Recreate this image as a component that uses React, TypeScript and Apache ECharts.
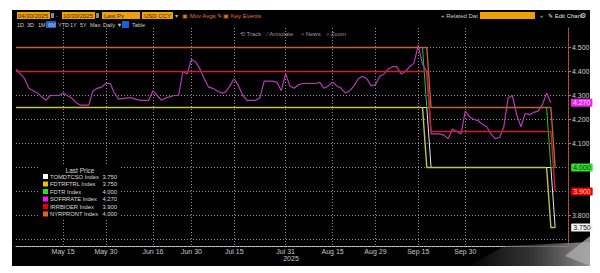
import React, { useEffect, useRef } from 'react';
import * as echarts from 'echarts';

// ---------- axis definitions ----------
const rangeStart = '2025-04-30';
const rangeEnd = '2025-11-04';
const holidays = ['2025-05-26', '2025-06-19', '2025-07-04', '2025-09-01', '2025-10-13'];
const tickDates = ['2025-05-15', '2025-05-30', '2025-06-16', '2025-06-30', '2025-07-15', '2025-07-31', '2025-08-15', '2025-08-29', '2025-09-15', '2025-09-30'];
const yTickValues = [3.8, 4.1, 4.2, 4.3, 4.4, 4.5];
const yGridValues = [3.7, 3.8, 3.9, 4.0, 4.1, 4.2, 4.3, 4.4, 4.5];
const MONTHS = ['Jan', 'Feb', 'Mar', 'Apr', 'May', 'Jun', 'Jul', 'Aug', 'Sep', 'Oct', 'Nov', 'Dec'];

// ---------- series data ----------
const sofrDates = [
  '2025-04-30', '2025-05-02', '2025-05-05', '2025-05-07', '2025-05-09', '2025-05-12', '2025-05-14', '2025-05-15',
  '2025-05-19', '2025-05-20', '2025-05-21', '2025-05-23', '2025-05-27', '2025-05-28', '2025-05-29', '2025-05-30',
  '2025-06-02', '2025-06-03', '2025-06-04', '2025-06-06', '2025-06-09', '2025-06-11', '2025-06-13', '2025-06-16',
  '2025-06-17', '2025-06-18', '2025-06-20', '2025-06-24', '2025-06-25', '2025-06-26', '2025-06-27', '2025-06-30',
  '2025-07-01', '2025-07-02', '2025-07-03', '2025-07-07', '2025-07-08', '2025-07-09', '2025-07-10', '2025-07-11',
  '2025-07-14', '2025-07-15', '2025-07-16', '2025-07-17', '2025-07-18', '2025-07-21', '2025-07-22', '2025-07-23',
  '2025-07-24', '2025-07-25', '2025-07-28', '2025-07-29', '2025-07-30', '2025-07-31', '2025-08-01', '2025-08-04',
  '2025-08-05', '2025-08-06', '2025-08-07', '2025-08-08', '2025-08-11', '2025-08-12', '2025-08-13', '2025-08-14',
  '2025-08-15', '2025-08-18', '2025-08-19', '2025-08-20', '2025-08-21', '2025-08-22', '2025-08-25', '2025-08-26',
  '2025-08-27', '2025-08-28', '2025-08-29', '2025-09-02', '2025-09-03', '2025-09-04', '2025-09-05', '2025-09-08',
  '2025-09-09', '2025-09-10', '2025-09-11', '2025-09-12', '2025-09-15', '2025-09-16', '2025-09-17', '2025-09-18',
  '2025-09-19', '2025-09-22', '2025-09-23', '2025-09-24', '2025-09-25', '2025-09-26', '2025-09-29', '2025-09-30',
  '2025-10-01', '2025-10-02', '2025-10-03', '2025-10-06', '2025-10-07', '2025-10-08', '2025-10-09', '2025-10-10',
  '2025-10-14', '2025-10-15', '2025-10-16', '2025-10-17', '2025-10-20', '2025-10-21', '2025-10-22', '2025-10-23',
  '2025-10-24', '2025-10-27', '2025-10-28', '2025-10-29'
];
const sofrValues = [
  4.41, 4.37, 4.33, 4.31, 4.28, 4.30, 4.30, 4.31,
  4.29, 4.27, 4.26, 4.26, 4.32, 4.33, 4.335, 4.35,
  4.35, 4.31, 4.285, 4.29, 4.29, 4.28, 4.28, 4.32,
  4.30, 4.28, 4.29, 4.30, 4.30, 4.40, 4.39, 4.45,
  4.44, 4.41, 4.37, 4.335, 4.33, 4.32, 4.31, 4.315,
  4.34, 4.37, 4.34, 4.30, 4.28, 4.28, 4.28, 4.29,
  4.36, 4.36, 4.36, 4.355, 4.32, 4.39, 4.34, 4.33,
  4.345, 4.35, 4.35, 4.35, 4.35, 4.355, 4.33, 4.34,
  4.355, 4.34, 4.33, 4.31, 4.32, 4.34, 4.37, 4.38,
  4.37, 4.34, 4.345, 4.38, 4.39, 4.41, 4.42, 4.42,
  4.39, 4.40, 4.42, 4.435, 4.51, 4.43, 4.40, 4.14,
  4.14, 4.14, 4.135, 4.12, 4.16, 4.15, 4.14, 4.235,
  4.21, 4.20, 4.195, 4.18, 4.17, 4.14, 4.12, 4.125,
  4.17, 4.29, 4.30, 4.22, 4.17, 4.225, 4.22, 4.23,
  4.235, 4.26, 4.31, 4.27
];

// Fed funds target upper (FDTR) and lower (FDTRFTRL) bounds: change on announcement day
const boundDates = ['2025-04-30', '2025-09-16', '2025-09-17', '2025-10-28', '2025-10-29', '2025-10-30'];
const fdtrValues = [4.5, 4.5, 4.25, 4.25, 4.0, 4.0];
const ftrlValues = [4.25, 4.25, 4.0, 4.0, 3.75, 3.75];
// Administered rates: change on effective day
const adminDates = ['2025-04-30', '2025-09-17', '2025-09-18', '2025-10-29', '2025-10-30'];
const tomValues = [4.25, 4.25, 4.0, 4.0, 3.75];
const iorbValues = [4.4, 4.4, 4.15, 4.15, 3.9];
const nyrpValues = [4.5, 4.5, 4.25, 4.25, 4.0];

const seriesNames = ['TOMDTCSO Index', 'FDTRFTRL Index', 'FDTR Index', 'SOFRRATE Index', 'IRRBIOER Index', 'NYRPRONT Index'];
const lineColors = ['#e6e6e6', '#c4c440', '#22c822', '#b838b8', '#c8202e', '#c06034'];
const legendColors = ['#ffffff', '#e8c000', '#22e022', '#ff10ff', '#e80000', '#e86010'];

// ---------- helpers ----------
function buildDays(): string[] {
  const out: string[] = [];
  const d = new Date(rangeStart + 'T00:00:00Z');
  const end = new Date(rangeEnd + 'T00:00:00Z');
  while (d.getTime() <= end.getTime()) {
    const wd = d.getUTCDay();
    const s = d.toISOString().slice(0, 10);
    if (wd !== 0 && wd !== 6 && holidays.indexOf(s) < 0) out.push(s);
    d.setUTCDate(d.getUTCDate() + 1);
  }
  return out;
}
const FONT = '"Liberation Sans", Arial, sans-serif';

function txt(x: number, y: number, text: string, fill = '#c8c8c8', size = 6, align = 'left', extra: any = {}) {
  return {
    type: 'text', x, y, z: 100, silent: true,
    style: { text, fill, font: `${size}px ${FONT}`, textAlign: align, align, textVerticalAlign: 'middle', verticalAlign: 'middle', ...extra },
  };
}
function box(x: number, y: number, w: number, h: number, fill: string) {
  return { type: 'rect', z: 99, silent: true, shape: { x, y, width: w, height: h }, style: { fill } };
}

// grid geometry: 240 px per 1.00 so that rate levels fall on pixel centres
const GRID_TOP = 28;
const GRID_BOTTOM = 27;
const PX_PER_UNIT = 240;
const Y_MAX = 4.5 + (47.5 - GRID_TOP) / PX_PER_UNIT;
const Y_MIN = Y_MAX - (273 - GRID_TOP - GRID_BOTTOM) / PX_PER_UNIT;
const GRID_COLOR = '#949494';

export default function App() {
  const ref = useRef<HTMLDivElement>(null);
  useEffect(() => {
    document.body.style.margin = '0';
    const days = buildDays();
    const pairs = (dates: string[], vals: number[]) => dates.map((d, i) => [days.indexOf(d), vals[i]]);
    const fmtDate = (v: string) => {
      const p = v.split('-');
      return `${MONTHS[+p[1] - 1]} ${+p[2]}`;
    };

    const endLbl = (bg: string, fg: string, distance: number) => ({
      show: true,
      distance,
      formatter: (p: any) => (p.value[1] as number).toFixed(3),
      backgroundColor: bg,
      color: fg,
      fontSize: 7,
      fontFamily: FONT,
      padding: [1, 2, 0, 2],
      borderRadius: 1,
      align: 'left',
    });

    const mkLine = (idx: number, dates: string[], vals: number[], width: number, extra: any = {}) => ({
      name: seriesNames[idx],
      type: 'line',
      z: 3,
      data: pairs(dates, vals),
      symbol: 'none',
      lineStyle: { color: lineColors[idx], width },
      itemStyle: { color: lineColors[idx] },
      silent: true,
      ...extra,
    });

    const lastVals = [
      tomValues[tomValues.length - 1],
      ftrlValues[ftrlValues.length - 1],
      fdtrValues[fdtrValues.length - 1],
      sofrValues[sofrValues.length - 1],
      iorbValues[iorbValues.length - 1],
      nyrpValues[nyrpValues.length - 1],
    ];

    const graphics: any[] = [];
    // toolbar row 1
    graphics.push(box(17, 12, 33, 7, '#f0a000'), txt(18, 15.7, '04/30/2025', '#3a2a00', 6));
    graphics.push(box(51, 13, 3, 5, '#888'), txt(56, 15.5, '-', '#bbb', 6));
    graphics.push(box(62, 12, 33, 7, '#f0a000'), txt(63, 15.7, '10/30/2025', '#3a2a00', 6));
    graphics.push(box(96, 13, 3, 5, '#888'));
    graphics.push(box(102, 12, 38, 7, '#f0a000'), txt(104, 15.7, 'Last Px', '#3a2a00', 6));
    graphics.push(box(142, 12, 31, 7, '#f0a000'), txt(144, 15.7, 'USD CCY', '#3a2a00', 6));
    graphics.push(txt(175, 15.5, '▾', '#bbb', 6));
    graphics.push(txt(182, 15.5, '▣ Mov Avgs ✎', '#e07820', 6));
    graphics.push(txt(223, 15.5, '▣ Key Events', '#e07820', 6));
    graphics.push(txt(441, 15.5, '+ Related Dat', '#c8c8c8', 6));
    graphics.push(box(480, 12, 55, 7, '#f0a000'));
    graphics.push(txt(540, 15.5, '«', '#bbb', 6));
    graphics.push(txt(548, 15.5, '✎ Edit Chart', '#e0e0e0', 6));
    graphics.push(txt(580, 15.5, '⚙', '#e0e0e0', 7));
    // toolbar row 2
    const row2: [number, string][] = [[17, '1D'], [27, '3D'], [38, '1M'], [48, '6M'], [58, 'YTD'], [70, '1Y'], [80, '5Y'], [90, 'Max'], [103, 'Daily ▼'], [132, 'Table']];
    graphics.push(box(46, 21, 10, 7, '#1a5fcf'));
    graphics.push(box(122, 21, 7, 7, '#1a5fcf'));
    row2.forEach(([x, t]) => graphics.push(txt(x, 24.5, t, '#cfcfcf', 5.5)));
    // toolbar row 3
    graphics.push(txt(240, 33.5, '⟲ Track', '#9a9a9a', 6));
    graphics.push(txt(267, 33.5, '⁄ Annotate', '#9a9a9a', 6));
    graphics.push(txt(301, 33.5, '⌗ News', '#9a9a9a', 6));
    graphics.push(txt(326, 33.5, '⌕ Zoom', '#9a9a9a', 6));

    // legend
    graphics.push({ type: 'rect', z: 98, silent: true, shape: { x: 40, y: 165, width: 79, height: 55 }, style: { fill: '#000' } });
    graphics.push(txt(80, 170, 'Last Price', '#d8d8d8', 6.5, 'center'));
    seriesNames.forEach((n, i) => {
      const y = 176.5 + i * 7.5;
      graphics.push(box(43, y - 2.5, 5, 5, legendColors[i]));
      graphics.push(txt(50, y, n, '#dcdcdc', 5.8));
      graphics.push(txt(117, y, lastVals[i].toFixed(3), '#dcdcdc', 5.8, 'right'));
    });
    // year label
    graphics.push(txt(291, 258, '2025', '#c8c8c8', 7, 'center'));
    // bottom-right smudge
    graphics.push({
      type: 'polygon', z: 97, silent: true,
      shape: { points: [[468, 266], [505, 246], [590, 242], [590, 266]] },
      style: {
        fill: new echarts.graphic.LinearGradient(0, 0, 1, 0, [
          { offset: 0, color: 'rgba(90,90,90,0)' },
          { offset: 0.5, color: 'rgba(70,70,70,0.7)' },
          { offset: 1, color: 'rgba(150,150,150,0.95)' },
        ]),
      },
    });
    graphics.push({
      type: 'polygon', z: 97, silent: true,
      shape: { points: [[565, 256], [590, 236], [590, 266]] },
      style: { fill: 'rgba(170,170,170,0.8)' },
    });

    const chart = echarts.init(ref.current!, null, { renderer: 'svg' });
    chart.setOption({
      animation: false,
      backgroundColor: 'transparent',
      grid: { left: 16, right: 32, top: GRID_TOP, bottom: GRID_BOTTOM, containLabel: false },
      xAxis: {
        type: 'category',
        data: days,
        boundaryGap: false,
        axisLine: { show: true, lineStyle: { color: '#c8c8c8', type: [3, 1], width: 1 } },
        axisTick: { show: false },
        axisLabel: {
          interval: (_i: number, v: string) => tickDates.indexOf(v) >= 0,
          formatter: (v: string) => fmtDate(v),
          color: '#c8c8c8',
          fontSize: 7,
          fontFamily: FONT,
          margin: 2,
        },
        splitLine: {
          show: true,
          interval: (_i: number, v: string) => tickDates.indexOf(v) >= 0,
          lineStyle: { color: GRID_COLOR, type: [1, 2], width: 1 },
        },
      },
      yAxis: {
        type: 'value',
        position: 'right',
        min: Y_MIN,
        max: Y_MAX,
        scale: true,
        axisLine: { show: true, lineStyle: { color: '#b85a2a', type: [3, 1], width: 1 } },
        axisTick: { show: true, customValues: yTickValues, length: 3, lineStyle: { color: '#e06a2a' } },
        axisLabel: {
          customValues: yTickValues,
          formatter: (v: number) => v.toFixed(3),
          color: '#cfcfcf',
          fontSize: 7,
          fontFamily: FONT,
          margin: 4,
        },
        splitLine: { show: false },
      },
      graphic: graphics,
      series: [
        mkLine(0, adminDates, tomValues, 1, {
          endLabel: endLbl('#f4f4f4', '#111', 16),
          markLine: {
            silent: true,
            z: 1,
            symbol: 'none',
            label: { show: false },
            lineStyle: { color: GRID_COLOR, type: [1, 2], width: 1 },
            data: yGridValues.map((v) => ({ yAxis: v })),
          },
        }),
        mkLine(1, boundDates, ftrlValues, 1.4),
        mkLine(2, boundDates, fdtrValues, 1, { endLabel: endLbl('#33dd33', '#0a3a0a', 16) }),
        mkLine(3, sofrDates, sofrValues, 1.2, { endLabel: endLbl('#f020f0', '#ffe0ff', 20) }),
        mkLine(4, adminDates, iorbValues, 1.4, { endLabel: endLbl('#e80000', '#ffd0d0', 16) }),
        mkLine(5, adminDates, nyrpValues, 1.4),
      ],
    });
    return () => chart.dispose();
  }, []);

  return (
    <div style={{ position: 'relative', width: 600, height: 273, background: '#fff' }}>
      <div style={{ position: 'absolute', left: 12, top: 10, width: 578, height: 256, background: '#000' }} />
      <div ref={ref} style={{ position: 'absolute', left: 0, top: 0, width: 600, height: 273 }} />
    </div>
  );
}
